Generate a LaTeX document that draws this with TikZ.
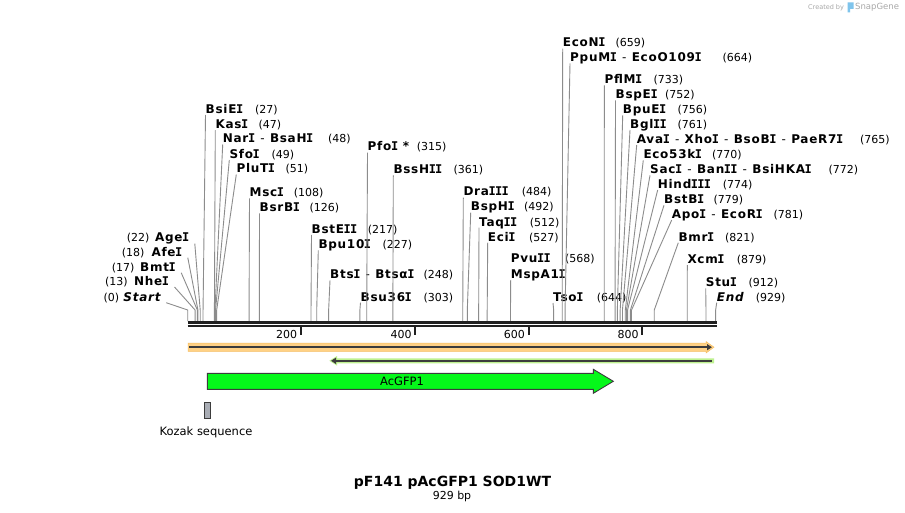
\documentclass[tikz,border=0pt]{standalone}
\usepackage{fontspec}
\setmainfont{DejaVu Sans}
\newfontfamily\enzfont{DejaVu Sans}[LetterSpace=6]
\newfontfamily\monof{DejaVu Sans Mono}
\usetikzlibrary{arrows.meta}
\definecolor{barc}{HTML}{202020}
\definecolor{linec}{HTML}{8C8C8C}
\definecolor{orgL}{HTML}{FFD185}
\definecolor{orgE}{HTML}{F5BE62}
\definecolor{grnL}{HTML}{BEF18F}
\definecolor{gfp}{HTML}{05F81A}
\definecolor{koz}{HTML}{A9ADB5}
\definecolor{darkl}{HTML}{3C3C3C}
\definecolor{wm}{HTML}{A8A8A8}
\definecolor{sgblue}{HTML}{7FC4EC}
\tikzset{
  enz/.style={anchor=base west, inner sep=0pt, text depth=1.5pt, font=\enzfont\bfseries\fontsize{12}{14}\selectfont},
  enzr/.style={enz, anchor=base east},
  num/.style={anchor=base west, inner sep=0pt, font=\fontsize{11}{13}\selectfont},
  cn/.style={draw=linec, line width=0.9pt},
  barline/.style={draw=barc},
  tk/.style={draw=barc, line width=2pt},
  tklab/.style={anchor=east, inner sep=0pt, font=\fontsize{11}{13}\selectfont},
}
\newcommand\Ib{\makebox[0.54em][c]{\monof\bfseries I}}
\newcommand\site[2]{\coordinate (s#1) at ({187.7+#2*0.5683},321);\coordinate (k#1) at ({187.7+#2*0.5683},310);}
\newcommand\enzl[6]{\node[enz] (e#1) at (#2,#3+4.3) {#4};\node[num] (e#1n) at (#5,#3+4.3) {(#6)};}
\newcommand\enzr[6]{\node[enzr] (e#1) at (#2,#3+4.3) {#4};\node[num] (e#1n) at (#5,#3+4.3) {(#6)};}
\newcommand\dsh{\hspace{0.45em}{\mdseries-}\hspace{0.45em}}
\begin{document}
\begin{tikzpicture}[x=1pt,y=-1pt]
\useasboundingbox[fill=white] (0,0) rectangle (905,513);
% sites
\foreach \p in {0,13,17,18,22,27,47,48,49,51,108,126,217,227,248,303,315,361,484,492,512,527,568,644,659,664,733,752,756,761,765,770,772,774,779,781,821,879,912,929}{\site{\p}{\p}}
% left cluster
\enzr{AgeI}{189.3}{237.7}{Age\Ib}{126.7}{22}
\enzr{AfeI}{182.3}{251.7}{Afe\Ib}{121.7}{18}
\enzr{BmtI}{175.7}{266.7}{Bmt\Ib}{111.7}{17}
\enzr{NheI}{169}{281}{Nhe\Ib}{105}{13}
\enzr{Start}{160.7}{296.7}{\itshape Start}{103.3}{0}
\draw[cn] ([xshift=5.5pt]eAgeI.south east) -- (k22) -- (s22);
\draw[cn] ([xshift=5.5pt]eAfeI.south east) -- (k18) -- (s18);
\draw[cn] ([xshift=5.5pt]eBmtI.south east) -- (k17) -- (s17);
\draw[cn] ([xshift=5.5pt]eNheI.south east) -- (k13) -- (s13);
\draw[cn] ([xshift=5.5pt]eStart.south east) -- (k0) -- (s0);
% top labels
\enzl{BsiEI}{205.5}{109}{BsiE\Ib}{255}{27}
\enzl{KasI}{215.3}{124.3}{Kas\Ib}{258.3}{47}
\enzl{NarI}{222.7}{138.5}{Nar\Ib\dsh BsaH\Ib}{328}{48}
\enzl{SfoI}{229.3}{154}{Sfo\Ib}{271.5}{49}
\enzl{PluTI}{236.3}{168.5}{PluT\Ib}{285.3}{51}
\enzl{MscI}{249.5}{192.3}{Msc\Ib}{293.7}{108}
\enzl{BsrBI}{259.5}{207.3}{BsrB\Ib}{309.3}{126}
\enzl{BstEII}{311.5}{229}{BstE\Ib\Ib}{367.7}{217}
\enzl{Bpu}{318.3}{244.3}{Bpu10\Ib}{382.3}{227}
\enzl{BtsI}{330}{274.3}{Bts\Ib\dsh Btsα\Ib}{423.3}{248}
\enzl{Bsu}{360.5}{296.7}{Bsu36\Ib}{423.3}{303}
\enzl{PfoI}{367.5}{146.7}{Pfo\Ib\ *}{416.7}{315}
\enzl{BssHII}{393.3}{169.3}{BssH\Ib\Ib}{453.3}{361}
\enzl{DraIII}{463.3}{191.7}{Dra\Ib\Ib\Ib}{521.7}{484}
\enzl{BspHI}{470.7}{206.7}{BspH\Ib}{524}{492}
\enzl{TaqII}{479}{221.7}{Taq\Ib\Ib}{529.7}{512}
\enzl{EciI}{487.7}{236.7}{Eci\Ib}{529}{527}
\enzl{PvuII}{510.7}{258.5}{Pvu\Ib\Ib}{565}{568}
\node[enz] (eMspA) at (510.7,274+4.3) {MspA1\Ib};
\enzl{TsoI}{553}{297}{Tso\Ib}{596.7}{644}
\enzl{EcoNI}{562.7}{42.7}{EcoN\Ib}{615.5}{659}
\enzl{PpuMI}{570}{57.3}{PpuM\Ib\dsh EcoO109\Ib}{722.5}{664}
\enzl{PflMI}{604.3}{79.3}{PflM\Ib}{653.3}{733}
\enzl{BspEI}{615.5}{94.3}{BspE\Ib}{665}{752}
\enzl{BpuEI}{622.7}{109.3}{BpuE\Ib}{677.3}{756}
\enzl{BglII}{630}{124}{Bgl\Ib\Ib}{677.5}{761}
\enzl{AvaI}{636.7}{139}{Ava\Ib\dsh Xho\Ib\dsh BsoB\Ib\dsh PaeR7\Ib}{860}{765}
\enzl{Eco}{643.3}{154.3}{Eco53k\Ib}{712}{770}
\enzl{SacI}{650}{169.3}{Sac\Ib\dsh Ban\Ib\Ib\dsh BsiHKA\Ib}{828.3}{772}
\enzl{HindIII}{657.7}{184}{Hind\Ib\Ib\Ib}{722.7}{774}
\enzl{BstBI}{664}{199.3}{BstB\Ib}{713.3}{779}
\enzl{ApoI}{671.7}{214}{Apo\Ib\dsh EcoR\Ib}{773.3}{781}
\enzl{BmrI}{678.3}{236.7}{Bmr\Ib}{725}{821}
\enzl{XcmI}{687.3}{259}{Xcm\Ib}{736.7}{879}
\enzl{StuI}{705.7}{282.3}{Stu\Ib}{748.3}{912}
\enzl{End}{716.7}{296.7}{\itshape End}{755.7}{929}
% connectors
\foreach \n/\p in {BsiEI/27,KasI/47,NarI/48,SfoI/49,PluTI/51,MscI/108,BsrBI/126,BstEII/217,Bpu/227,BtsI/248,Bsu/303,PfoI/315,BssHII/361,DraIII/484,BspHI/492,TaqII/512,EciI/527,MspA/568,TsoI/644,EcoNI/659,PpuMI/664,PflMI/733,BspEI/752,BpuEI/756,BglII/761,AvaI/765,Eco/770,SacI/772,HindIII/774,BstBI/779,ApoI/781,BmrI/821,XcmI/879,StuI/912,End/929}
  {\draw[cn] (e\n.south west) -- (k\p) -- (s\p);}
% sequence bar
\draw[barline, line width=3pt] (187.7,322.3) -- (716.7,322.3);
\draw[barline, line width=2.5pt] (187.7,326.2) -- (716.7,326.2);
% ticks
\foreach \t/\x in {200/300.9,400/415.2,600/528.6,800/642.3}{
  \draw[tk] (\x,327) -- (\x,335);
  \node[tklab] (tl\t) at (\x-3.5,334) {\t};
}
% orange feature
\fill[orgL, draw=orgE, line width=0.5pt] (188,343) -- (706,343) -- (706,341.5) -- (714,347.2) -- (706,353) -- (706,351.4) -- (188,351.4) -- cycle;
\draw[darkl, line width=1.8pt, -{Triangle[length=5pt,width=6pt]}] (189,347.2) -- (712,347.2);
% green feature
\fill[grnL] (714,358.3) -- (337,358.3) -- (337,356) -- (329.3,360.8) -- (337,365.6) -- (337,363.3) -- (714,363.3) -- cycle;
\draw[darkl, line width=1.8pt, -{Triangle[length=5pt,width=6pt]}] (712,360.8) -- (331,360.8);
% AcGFP1
\draw[fill=gfp, draw=darkl, line width=0.9pt] (207.3,373.3) -- (593.3,373.3) -- (593.3,369.3) -- (613.3,381.3) -- (593.3,393.3) -- (593.3,389.3) -- (207.3,389.3) -- cycle;
\node[font=\fontsize{11.5}{13}\selectfont, inner sep=0pt] (gfplab) at (402,381) {AcGFP1};
% Kozak
\draw[fill=koz, draw=darkl, line width=0.8pt] (204.3,402.3) rectangle (210.7,418.3);
\node[font=\fontsize{11.5}{13}\selectfont, inner sep=0pt] (kozlab) at (206,432) {Kozak sequence};
% title
\node[font=\bfseries\fontsize{14}{16}\selectfont, inner sep=0pt] (title) at (452.5,482.7) {pF141 pAcGFP1 SOD1WT};
\node[font=\fontsize{11}{13}\selectfont, inner sep=0pt] (bp) at (452,496.7) {929 bp};
% watermark
\node[anchor=west, inner sep=0pt, text=wm, font=\fontsize{6.5}{8}\selectfont] (cb) at (808,7.5) {Created by};
\fill[sgblue] (847.5,2.5) -- (853.5,2.5) -- (853.5,9) -- (850,9) -- (850,12.5) -- (847.5,12.5) -- cycle;
\node[anchor=west, inner sep=0pt, text=wm, font=\fontsize{8.5}{10}\selectfont] (sg) at (855,7.5) {SnapGene};
\end{tikzpicture}
\end{document}
